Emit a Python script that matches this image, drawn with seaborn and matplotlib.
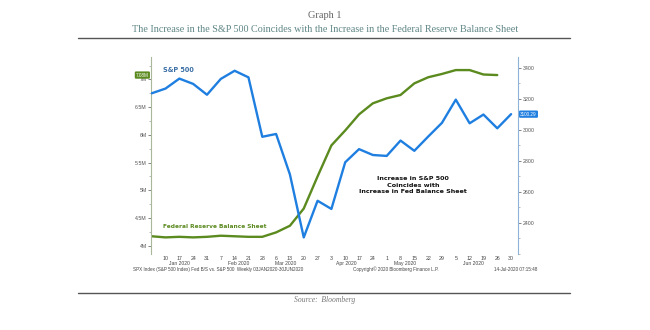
import matplotlib
matplotlib.use("Agg")
import matplotlib.pyplot as plt
import matplotlib.transforms as mtransforms
from matplotlib.lines import Line2D
from matplotlib.ticker import MultipleLocator
import seaborn as sns
import pandas as pd

# ---- data ----
week_labels = ["10", "17", "24", "31", "7", "14", "21", "28", "6", "13", "20", "27",
               "3", "10", "17", "24", "1", "8", "15", "22", "29", "5", "12", "19", "26", "30"]
month_labels = ["Jan 2020", "Feb 2020", "Mar 2020", "Apr 2020", "May 2020", "Jun 2020"]
month_pos = [2.0, 6.3, 9.7, 14.1, 18.3, 23.3]
spx = [3234.85, 3265.35, 3329.62, 3295.47, 3225.52, 3327.71, 3380.16, 3337.75, 2954.22,
       2972.37, 2711.02, 2304.92, 2541.47, 2488.65, 2789.82, 2874.56, 2836.74, 2830.71,
       2929.80, 2863.70, 2955.45, 3044.31, 3193.93, 3041.31, 3097.74, 3009.05, 3100.29]
fed = [4.17, 4.15, 4.16, 4.15, 4.16, 4.18, 4.17, 4.16, 4.16, 4.24, 4.36, 4.67, 5.25,
       5.81, 6.08, 6.37, 6.57, 6.66, 6.72, 6.93, 7.04, 7.10, 7.17, 7.17, 7.09, 7.08]
fed_ticks = [4, 4.5, 5, 5.5, 6, 6.5, 7]
spx_ticks = [2400, 2600, 2800, 3000, 3200, 3400]

df_spx = pd.DataFrame({"i": range(len(spx)), "v": spx})
df_fed = pd.DataFrame({"i": range(len(fed)), "v": fed})

sns.set_style("white")
plt.rcParams["font.family"] = ["Liberation Sans", "DejaVu Sans"]

GREEN = "#5b8a1f"
BLUE = "#1f7fe0"

fig = plt.figure(figsize=(6.5, 3.3), dpi=100)
ax = fig.add_axes([151 / 650, 1 - 254 / 330, 367 / 650, 197 / 330])
ax2 = ax.twinx()

sns.lineplot(data=df_fed, x="i", y="v", ax=ax, color=GREEN, linewidth=1.7)
sns.lineplot(data=df_spx, x="i", y="v", ax=ax2, color=BLUE, linewidth=1.7)

ax.set_xlim(-0.05, 26.5)
ax.set_ylim(3.85, 7.406)
ax2.set_ylim(2198, 3469)
ax.set_xlabel("")
ax.set_ylabel("")
ax2.set_xlabel("")
ax2.set_ylabel("")

for a in (ax, ax2):
    for s in ("top", "bottom"):
        a.spines[s].set_visible(False)
ax.spines["right"].set_visible(False)
ax2.spines["left"].set_visible(False)
ax.spines["left"].set_color("#a9b89a")
ax.spines["left"].set_linewidth(0.8)
ax2.spines["right"].set_color("#8db3d9")
ax2.spines["right"].set_linewidth(0.8)

ax.set_yticks(fed_ticks)
ax.set_yticklabels([f"{t:g}M" for t in fed_ticks])
ax.tick_params(axis="y", labelsize=3.8, colors="#555555", length=2, width=0.5, pad=1)
ax.yaxis.set_minor_locator(MultipleLocator(0.25))
ax.tick_params(axis="y", which="minor", length=1.2, width=0.4, colors="#888888")

ax2.set_yticks(spx_ticks)
ax2.set_yticklabels([str(t) for t in spx_ticks])
ax2.tick_params(axis="y", labelsize=3.8, colors="#555555", length=2, width=0.5, pad=1.5)
ax2.yaxis.set_minor_locator(MultipleLocator(100))
ax2.tick_params(axis="y", which="minor", length=1.2, width=0.4, colors="#888888")

ax.set_xticks(range(1, 27))
ax.set_xticklabels(week_labels)
ax.tick_params(axis="x", labelsize=3.8, colors="#444444", length=0, pad=1.5)

trans = mtransforms.blended_transform_factory(ax.transData, ax.transAxes)
for lab, p in zip(month_labels, month_pos):
    ax.text(p, -0.046, lab, transform=trans, ha="center", va="center", fontsize=3.6, color="#444444")

# end-value tags
tl = mtransforms.blended_transform_factory(ax.transAxes, ax.transData)
ax.text(-0.006, fed[-1], f"{fed[-1]:.2f}M", transform=tl, ha="right", va="center",
        fontsize=3.3, color="white",
        bbox=dict(boxstyle="round,pad=0.25", fc=GREEN, ec="none"))
tr = mtransforms.blended_transform_factory(ax2.transAxes, ax2.transData)
ax2.text(1.006, spx[-1], f"{spx[-1]:.2f}", transform=tr, ha="left", va="center",
         fontsize=3.3, color="white",
         bbox=dict(boxstyle="round,pad=0.25", fc=BLUE, ec="none"))

# annotations
ax.text(0.033, 0.934, "S&P 500", transform=ax.transAxes, fontsize=4.7, fontweight="bold",
        color="#3a6ea5", family="DejaVu Sans", va="center")
ax.text(0.033, 0.142, "Federal Reserve Balance Sheet", transform=ax.transAxes, fontsize=4.2,
        fontweight="bold", color=GREEN, family="DejaVu Sans", va="center")
ax.text(0.714, 0.35, "Increase in S&P 500\nCoincides with\nIncrease in Fed Balance Sheet",
        transform=ax.transAxes, fontsize=4.6, fontweight="bold", color="#111111",
        family="DejaVu Sans", ha="center", va="center", linespacing=1.3)

# footer
fy = 1 - 269.5 / 330
fig.text(133 / 650, fy, "SPX Index (S&P 500 Index) Fed B/S vs. S&P 500  Weekly 03JAN2020-30JUN2020",
         fontsize=3.3, color="#444444", va="center")
fig.text(353 / 650, fy, "Copyright\u00a9 2020 Bloomberg Finance L.P.",
         fontsize=3.3, color="#444444", va="center")
fig.text(537 / 650, fy, "14-Jul-2020 07:15:48",
         fontsize=3.3, color="#444444", va="center", ha="right")

# title block
fig.text(0.5, 1 - 16 / 330, "Graph 1", ha="center", va="center", fontsize=7.5,
         family="Liberation Serif", color="#666666")
fig.text(0.5, 1 - 29 / 330,
         "The Increase in the S&P 500 Coincides with the Increase in the Federal Reserve Balance Sheet",
         ha="center", va="center", fontsize=7.3, family="Liberation Serif", color="#5f8585")
fig.add_artist(Line2D([78 / 650, 570 / 650], [1 - 38 / 330] * 2, color="#555555", lw=1.0))
fig.add_artist(Line2D([78 / 650, 570 / 650], [1 - 293 / 330] * 2, color="#555555", lw=1.0))
fig.text(0.5, 1 - 300 / 330, "Source:  Bloomberg", ha="center", va="center", fontsize=5.5,
         family="Liberation Serif", style="italic", color="#777777")

fig.savefig("out.png", dpi=100, facecolor="white")
